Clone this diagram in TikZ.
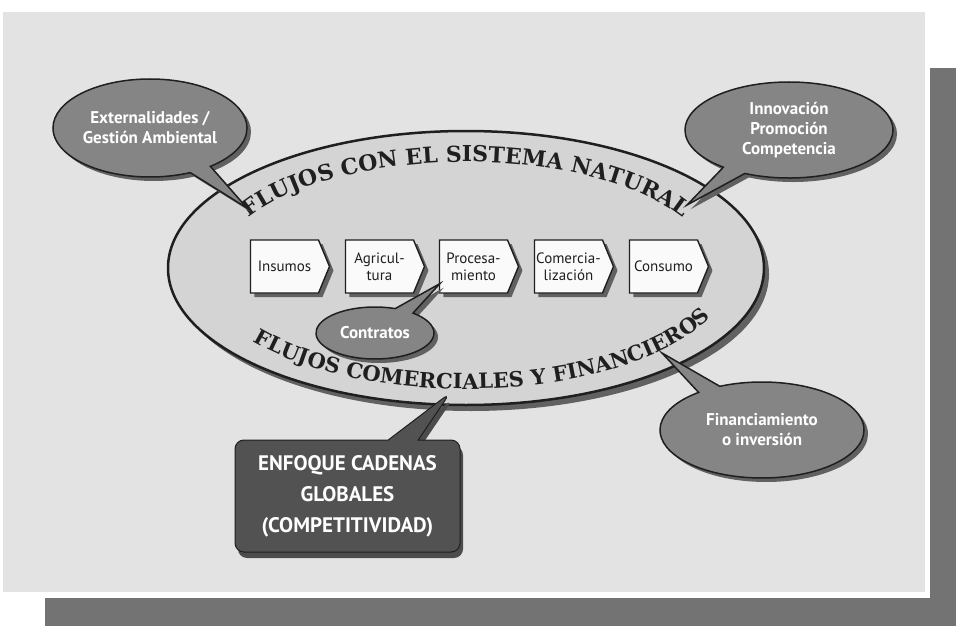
\documentclass[tikz,border=0pt]{standalone}
\usepackage{fontspec}
\setmainfont{PT Sans}
\newfontfamily\flowfont{DejaVu Serif}
\usetikzlibrary{shapes.geometric,shapes.symbols,shapes.callouts,shadows,decorations.text,calc}
\definecolor{panel}{gray}{0.89}
\definecolor{ellfill}{gray}{0.83}
\definecolor{bubfill}{gray}{0.52}
\definecolor{boxdark}{gray}{0.32}
\definecolor{bar}{gray}{0.45}
\definecolor{shade}{gray}{0.38}
\definecolor{ink}{gray}{0.12}
\begin{document}
\begin{tikzpicture}[x=1pt,y=1pt,
  bubble/.style={ellipse callout, draw=ink, line width=1.5pt, fill=bubfill, text=white,
    font=\bfseries\fontsize{17}{20}\selectfont, align=center, inner sep=0pt, callout pointer arc=14,
    drop shadow={shadow xshift=4pt, shadow yshift=-4pt, fill=shade, opacity=1}},
  stepbox/.style={signal, signal to=east, signal pointer angle=135, draw=ink, line width=1.4pt,
    fill=gray!4, minimum width=79pt, minimum height=53pt, inner sep=0pt,
    font=\fontsize{15}{17}\selectfont, align=center, text=ink,
    drop shadow={shadow xshift=4pt, shadow yshift=-4pt, fill=shade, opacity=1}}
]
\useasboundingbox (0,0) rectangle (956,-626);
% background panel and frame shadow
\fill[panel] (3,-12) rectangle (925,-592);
\fill[bar] (930,-68) rectangle (956,-626);
\fill[bar] (45,-598) rectangle (956,-626);

% main ellipse
\node[ellipse, draw=ink, line width=2.5pt, fill=ellfill, minimum width=596pt, minimum height=274pt,
  drop shadow={shadow xshift=5pt, shadow yshift=-6pt, fill=shade, opacity=1}] (sys) at (466,-268) {};

% curved titles
\path[decorate, decoration={text along path, text align=center, text color=ink,
  text={|\flowfont\bfseries\fontsize{22}{22}\selectfont|FLUJOS CON EL SISTEMA NATURAL}}]
  ($(sys.center)+(151:246pt and 106pt)$) arc[start angle=151, end angle=29, x radius=246pt, y radius=106pt];
\path[decorate, decoration={text along path, text align=center, text color=ink,
  text={|\flowfont\bfseries\fontsize{21}{21}\selectfont|FLUJOS COMERCIALES Y FINANCIEROS}}]
  ($(sys.center)+(211:268pt and 121pt)$) arc[start angle=211, end angle=344, x radius=268pt, y radius=121pt];

% chain of steps
\node[stepbox] (ins) at (284.5,-266.5) {Insumos};
\node[stepbox] (agr) at (379.5,-266.5) {Agricul-\\tura};
\node[stepbox] (pro) at (473.5,-266.5) {Procesa-\\miento};
\node[stepbox] (com) at (568.5,-266.5) {Comercia-\\lización};
\node[stepbox] (con) at (663.5,-266.5) {Consumo};

% pointer targets
\coordinate (extTip) at (247,-208);
\coordinate (innTip) at (687,-205);
\coordinate (finTip) at (662,-353);
\coordinate (enfTip) at (450,-393);

% callouts
\node[bubble, minimum width=118pt, minimum height=52pt, callout pointer arc=20,
  callout absolute pointer={($(pro.south west)+(1,10)$)}] (ctr) at (375,-333) {Contratos};
\node[bubble, minimum width=194pt, minimum height=98pt,
  callout absolute pointer={(extTip)}] (ext) at (150,-128) {Externalidades /\\Gestión Ambiental};
\node[bubble, minimum width=208pt, minimum height=96pt,
  callout absolute pointer={(innTip)}] (inn) at (789,-130) {Innovación\\Promoción\\Competencia};
\node[bubble, minimum width=204pt, minimum height=96pt,
  callout absolute pointer={(finTip)}] (fin) at (762,-430) {Financiamiento\\o inversión};
\node[rectangle callout, rounded corners=9pt, draw=ink, line width=1pt, fill=boxdark, text=white,
  font=\bfseries\fontsize{21}{31}\selectfont, align=center, inner sep=0pt,
  minimum width=225pt, minimum height=112pt, callout pointer width=30pt,
  callout absolute pointer={(enfTip)},
  drop shadow={shadow xshift=3pt, shadow yshift=-6pt, fill=black!70, opacity=1}] (enf) at (347.5,-496)
  {ENFOQUE CADENAS\\GLOBALES\\(COMPETITIVIDAD)};
\end{tikzpicture}
\end{document}
